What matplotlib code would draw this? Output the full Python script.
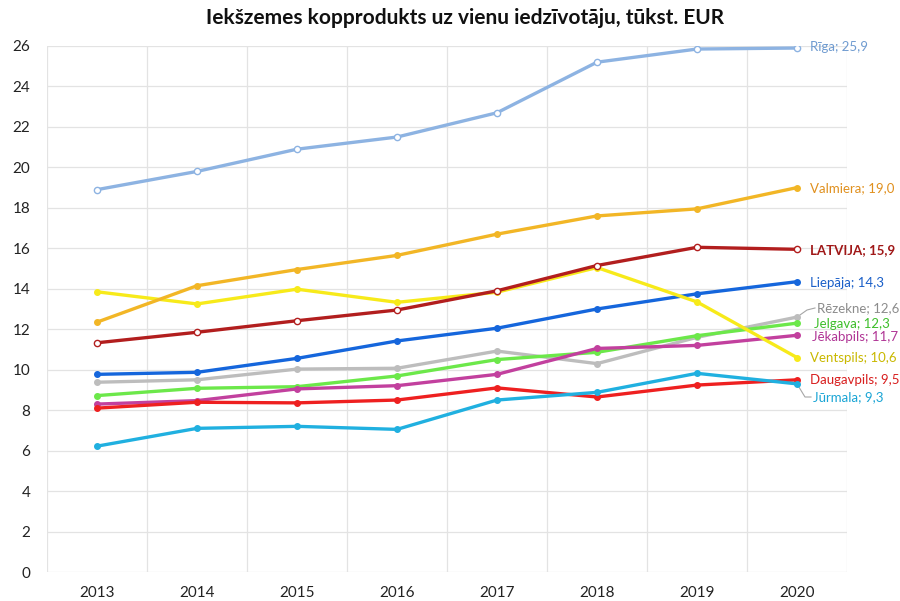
import matplotlib
matplotlib.use("Agg")
import matplotlib.pyplot as plt

plt.rcParams['font.family'] = ['Lato', 'DejaVu Sans']

years = ['2013', '2014', '2015', '2016', '2017', '2018', '2019', '2020']

riga = [18.9, 19.8, 20.9, 21.5, 22.7, 25.2, 25.85, 25.9]
valmiera = [12.35, 14.15, 14.95, 15.65, 16.7, 17.6, 17.95, 19.0]
ventspils = [13.85, 13.25, 13.98, 13.33, 13.83, 15.05, 13.35, 10.6]
latvija = [11.33, 11.85, 12.42, 12.95, 13.9, 15.15, 16.05, 15.95]
liepaja = [9.77, 9.87, 10.56, 11.42, 12.05, 13.0, 13.75, 14.35]
rezekne = [9.38, 9.5, 10.03, 10.07, 10.92, 10.3, 11.6, 12.6]
jelgava = [8.72, 9.08, 9.16, 9.69, 10.5, 10.86, 11.68, 12.3]
jekabpils = [8.3, 8.47, 9.05, 9.21, 9.77, 11.05, 11.2, 11.7]
daugavpils = [8.1, 8.39, 8.36, 8.5, 9.1, 8.65, 9.24, 9.5]
jurmala = [6.22, 7.1, 7.2, 7.05, 8.5, 8.88, 9.82, 9.3]

names = ['Rīga', 'Valmiera', 'Ventspils', 'LATVIJA', 'Liepāja', 'Rēzekne',
         'Jelgava', 'Jēkabpils', 'Daugavpils', 'Jūrmala']
label_values = ['25,9', '19,0', '10,6', '15,9', '14,3', '12,6', '12,3', '11,7', '9,5', '9,3']
series = [riga, valmiera, ventspils, latvija, liepaja, rezekne, jelgava,
          jekabpils, daugavpils, jurmala]

# styles: line colour, label colour, hollow marker, bold, label y, label x offset
styles = {
    'Rīga': dict(c='#8DB3E2', tc='#6F9BD0', hollow=True, bold=False, ly=25.95, dx=0.13),
    'Valmiera': dict(c='#F2B626', tc='#E0901E', hollow=False, bold=False, ly=18.95, dx=0.13),
    'Ventspils': dict(c='#F7EA1A', tc='#C9B800', hollow=False, bold=False, ly=10.6, dx=0.13),
    'LATVIJA': dict(c='#B21E1E', tc='#A01818', hollow=True, bold=True, ly=15.9, dx=0.13),
    'Liepāja': dict(c='#1566DC', tc='#1A5FC8', hollow=False, bold=False, ly=14.3, dx=0.13),
    'Rēzekne': dict(c='#BDBDBD', tc='#8C8C8C', hollow=False, bold=False, ly=13.05, dx=0.20),
    'Jelgava': dict(c='#6CE84A', tc='#3DBE2A', hollow=False, bold=False, ly=12.28, dx=0.17),
    'Jēkabpils': dict(c='#C2409E', tc='#B03595', hollow=False, bold=False, ly=11.62, dx=0.15),
    'Daugavpils': dict(c='#EE2020', tc='#D81E1E', hollow=False, bold=False, ly=9.5, dx=0.13),
    'Jūrmala': dict(c='#20B0E0', tc='#1AA5D5', hollow=False, bold=False, ly=8.65, dx=0.16),
}

fig = plt.figure(figsize=(9, 6.01), dpi=100)
ax = fig.add_axes([47 / 900, (601 - 572) / 601, 800 / 900, (572 - 46) / 601])

x = list(range(len(years)))
order = ['Rēzekne', 'Jelgava', 'Jēkabpils', 'Daugavpils', 'Jūrmala', 'Liepāja',
         'Ventspils', 'Valmiera', 'LATVIJA', 'Rīga']
for nm in order:
    i = names.index(nm)
    st = styles[nm]
    vals = series[i]
    ax.plot(x, vals, color=st['c'], lw=2.4, solid_capstyle='round', zorder=3,
            marker='o', ms=4.5 if st['hollow'] else 4,
            mfc='white' if st['hollow'] else st['c'], mec=st['c'], mew=1.0)
    ax.text(x[-1] + st['dx'], st['ly'], f"{nm}; {label_values[i]}", color=st['tc'],
            fontsize=9.5, va='center', ha='left',
            fontweight='bold' if st['bold'] else 'normal', clip_on=False)

# leader lines
ax.plot([7.0, 7.1, 7.18], [rezekne[-1], 12.95, 13.05], color='#A6A6A6', lw=0.8, clip_on=False)
ax.plot([7.0, 7.08, 7.14], [jurmala[-1], 8.65, 8.65], color='#A6A6A6', lw=0.8, clip_on=False)

ax.set_xlim(-0.5, 7.5)
ax.set_ylim(0, 26)
ax.set_yticks(range(0, 27, 2))
ax.set_xticks(x)
ax.set_xticklabels(years)
ax.set_xticks([v + 0.5 for v in range(-1, 8)], minor=True)
ax.grid(False)
ax.yaxis.grid(True, which='major', color='#E3E3E3', lw=0.9)
ax.xaxis.grid(True, which='minor', color='#E3E3E3', lw=0.9)
ax.set_axisbelow(True)
for s in ax.spines.values():
    s.set_visible(False)
ax.tick_params(axis='both', which='both', length=0, labelsize=11, colors='#222222')
ax.tick_params(axis='x', pad=10)
ax.tick_params(axis='y', pad=12)

fig.text(465 / 900, 1 - 18 / 601, 'Iekšzemes kopprodukts uz vienu iedzīvotāju, tūkst. EUR',
         ha='center', va='center', fontsize=15, fontweight='bold', color='#111111')

fig.savefig('out.png', dpi=100, facecolor='white')
